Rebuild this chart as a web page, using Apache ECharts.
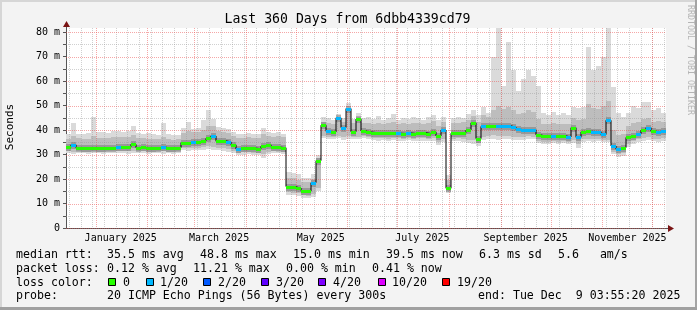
<!DOCTYPE html>
<html><head><meta charset="utf-8">
<script src="https://cdn.jsdelivr.net/npm/echarts@6/dist/echarts.min.js"></script>
<style>html,body{margin:0;padding:0;background:#f3f3f3;}#c{width:697px;height:310px;}</style>
</head><body><div id="c"></div>
<script>
// ---- time frame ----
const endTime = Date.UTC(2025, 11, 9, 3, 55, 20);
const spanDays = 360;
const stepDays = 3;               // one sample per 3 days
const startTime = endTime - spanDays * 864e5;

// ---- series values (ms), one per 3-day step ----
const medianRtt = [33.0,34.0,32.8,32.6,32.6,32.6,32.6,32.6,32.7,32.8,
 33.0,32.9,33.2,34.2,32.8,32.9,32.7,32.8,32.8,33.0,
 32.6,32.6,32.8,34.9,34.9,35.0,35.1,35.6,36.6,37.6,
 35.4,35.6,35.2,34.0,32.2,32.6,32.8,32.6,32.4,33.4,
 34.0,33.0,33.0,32.8,16.9,16.8,16.3,15.3,15.0,18.5,
 27.5,42.0,39.5,39.2,45.0,41.0,48.8,39.3,44.5,39.6,
 39.2,39.0,38.9,38.8,38.7,38.8,38.7,38.6,38.8,38.6,
 38.8,38.9,38.6,39.3,37.6,40.0,16.2,38.7,38.8,39.0,
 40.0,43.0,36.5,41.5,41.8,41.8,41.7,41.8,41.7,41.2,
 40.3,40.0,40.0,40.2,38.0,37.5,37.4,37.6,37.5,37.6,
 37.2,41.0,37.0,39.3,39.5,39.4,39.3,38.2,44.0,33.5,
 32.2,32.8,37.0,37.7,38.5,40.0,41.0,39.5,39.3,39.5];

// loss colour index (0 = 0/20, 1 = 1/20)
const lossIdx = [0,1,0,0,0,0,0,0,0,0,
 1,0,0,0,0,0,0,0,0,1,
 0,0,0,0,0,1,0,0,0,1,
 0,0,1,0,1,0,0,0,0,0,
 0,0,0,0,0,0,0,0,0,1,
 0,0,1,0,1,1,1,0,0,0,
 0,0,0,0,0,0,1,0,1,0,
 0,0,0,0,0,1,0,0,0,0,
 0,0,0,1,0,0,1,1,1,1,
 1,1,1,1,0,0,0,1,0,0,
 1,0,1,0,0,1,1,1,1,1,
 1,0,0,0,1,0,1,0,1,1];

const smokeMin = [30.6,30.4,30.6,30.5,30.4,30.6,30.5,30.4,30.6,30.5,
 30.7,30.6,30.4,30.8,30.5,30.6,30.4,30.5,30.6,30.4,
 30.5,30.4,30.6,31.8,31.6,31.8,31.7,32.0,32.4,32.0,
 31.8,31.6,31.2,30.8,29.8,30.0,30.2,30.0,29.9,28.6,
 30.4,30.6,30.5,30.4,13.6,13.5,13.2,12.3,12.1,12.6,
 15.0,36.6,36.4,36.2,36.8,36.0,36.4,36.5,36.2,36.6,
 36.4,36.0,35.6,35.8,35.5,35.8,35.6,35.4,35.8,35.6,
 35.5,35.7,35.4,35.6,33.8,35.0,14.3,35.4,35.6,35.2,
 34.8,34.4,33.4,35.8,36.2,36.4,36.0,36.4,36.2,36.0,
 35.8,36.0,36.4,36.2,34.6,34.4,34.2,34.6,34.4,34.6,
 34.2,34.8,32.8,35.0,35.4,35.2,35.6,35.0,35.0,30.2,
 29.2,29.6,33.0,34.4,35.2,35.6,36.0,35.4,35.0,35.6];

const smokeMax = [38.5,43.0,38.6,38.4,38.8,45.5,39.2,39.3,39.0,39.5,
 39.8,39.4,39.6,41.5,39.0,38.6,38.8,38.4,38.0,42.8,
 38.2,37.8,38.0,40.8,43.5,40.6,41.0,44.0,48.2,44.5,
 41.4,41.0,40.5,39.2,38.6,38.4,38.8,38.2,38.6,40.8,
 39.4,39.0,39.2,38.6,22.8,22.6,22.0,20.4,20.6,22.0,
 30.0,45.5,45.0,44.0,46.5,45.0,51.0,44.5,47.0,45.0,
 45.5,44.5,45.8,44.0,45.0,46.6,44.2,45.0,44.5,45.4,
 44.8,44.0,45.5,46.0,44.0,45.5,21.7,45.0,45.5,45.0,
 46.5,48.0,46.0,49.5,47.0,70.0,81.7,58.0,76.0,64.6,
 56.0,61.0,64.5,62.0,58.0,47.0,46.0,47.5,46.0,47.0,
 46.0,49.5,49.0,49.6,74.0,64.6,66.0,70.0,81.7,57.8,
 47.0,45.5,47.0,50.0,49.0,51.5,51.5,48.0,49.0,47.0];

const bandLow = [31.3,31.2,31.3,31.2,31.2,31.3,31.2,31.2,31.3,31.3,
 31.4,31.3,31.3,31.6,31.3,31.3,31.2,31.2,31.3,31.3,
 31.2,31.2,31.3,32.6,32.5,32.6,32.6,32.9,33.4,33.2,
 32.8,32.6,32.2,31.6,30.6,30.9,31.0,30.8,30.7,30.4,
 31.2,31.3,31.2,31.1,14.6,14.5,14.1,13.3,13.2,13.8,
 16.5,37.4,37.2,37.0,37.6,37.0,37.4,37.3,37.1,37.4,
 37.2,36.9,36.6,36.7,36.5,36.7,36.6,36.4,36.7,36.5,
 36.6,36.7,36.4,36.8,35.0,36.2,15.2,36.4,36.6,36.4,
 36.0,35.8,34.6,37.2,37.6,37.8,37.5,37.7,37.5,37.2,
 37.0,37.0,37.4,37.2,35.6,35.3,35.2,35.5,35.3,35.5,
 35.0,35.8,34.2,36.2,36.4,36.3,36.5,35.8,36.0,31.2,
 30.2,30.6,34.2,35.6,36.2,36.6,37.0,36.4,36.2,36.6];

const bandHigh = [36.4,37.5,36.6,36.4,36.5,37.5,36.8,36.9,36.7,37.0,
 37.2,37.0,37.3,38.0,36.8,36.6,36.5,36.3,36.2,37.0,
 36.2,36.0,36.3,39.0,39.6,39.2,39.4,40.0,41.5,41.8,
 39.6,39.4,39.0,37.6,36.8,36.6,37.0,36.6,36.8,38.2,
 37.6,37.2,37.4,37.0,20.6,20.4,19.8,18.6,18.8,20.2,
 28.5,43.5,42.8,42.4,45.0,43.4,49.0,42.8,45.5,43.0,
 43.0,42.6,43.0,42.4,42.8,43.4,42.6,42.8,42.6,43.0,
 42.8,42.4,43.0,43.6,41.8,43.2,19.8,42.8,43.0,43.2,
 44.0,45.8,43.5,46.0,45.5,48.0,50.0,48.5,49.5,48.0,
 46.5,47.0,48.0,47.5,44.5,42.6,42.4,42.8,42.4,42.6,
 42.4,45.0,44.0,44.5,50.5,49.0,48.5,50.0,52.0,40.0,
 38.0,38.2,41.5,43.0,43.5,44.5,45.0,43.5,43.8,43.2];

// ---- axis / labels ----
const yMax = 81.7;
const yGridValues = [0,5,10,15,20,25,30,35,40,45,50,55,60,65,70,75,80];
const yLabelValues = [0,10,20,30,40,50,60,70,80];
const monthLabels = ['January 2025','March 2025','May 2025','July 2025','September 2025','November 2025'];
const monthLabelMonths = [0,2,4,6,8,10];
const lossColors = ['#26ff00','#00b8ff','#0059ff','#5e00ff','#7e00ff','#dd00ff','#ff0000'];
const lossNames = ['0','1/20','2/20','3/20','4/20','10/20','19/20'];
const legendRtt = ['median rtt:','35.5 ms avg','48.8 ms max','15.0 ms min','39.5 ms now','6.3 ms sd','5.6   am/s'];
const legendLoss = ['packet loss:','0.12 % avg','11.21 % max','0.00 % min','0.41 % now'];

const dayOf = ms => (ms - startTime) / 864e5;
const MONO = 'DejaVu Sans Mono';

// grid lines: weeks (Mondays) and month starts
const vGrid = [];
for (let t = Date.UTC(2024, 11, 16); t < endTime; t += 7 * 864e5) vGrid.push([dayOf(t), 0]);
for (let m = 0; m < 12; m++) vGrid.push([dayOf(Date.UTC(2025, m, 1)), 1]);
const hGrid = yGridValues.map(v => [v, v % 10 === 0 ? 1 : 0]);
const labelDays = monthLabelMonths.map(m => dayOf(Date.UTC(2025, m, 1)) + 15);

const n = medianRtt.length;
const smokeData = smokeMin.map((v, i) => [i * stepDays, (i + 1) * stepDays, v, smokeMax[i]]);
const bandData = bandLow.map((v, i) => [i * stepDays, (i + 1) * stepDays, v, bandHigh[i]]);
const lossData = medianRtt.map((v, i) => [i * stepDays, (i + 1) * stepDays, v, lossIdx[i]]);
const medLine = medianRtt.map((v, i) => [i * stepDays, v]);
medLine.push([n * stepDays, medianRtt[n - 1]]);

function rangeRect(color) {
  return function (params, api) {
    const p0 = api.coord([api.value(0), api.value(2)]);
    const p1 = api.coord([api.value(1), api.value(3)]);
    const x0 = Math.round(p0[0]), x1 = Math.round(p1[0]);
    const yb = Math.round(p0[1]), yt = Math.round(p1[1]);
    return { type: 'rect', shape: { x: x0, y: yt, width: x1 - x0, height: Math.max(1, yb - yt) }, style: { fill: color } };
  };
}

const chart = echarts.init(document.getElementById('c'), null, { renderer: 'canvas' });
chart.setOption({
  backgroundColor: '#f3f3f3',
  animation: false,
  grid: { left: 66, top: 28, width: 600, height: 200, show: true, backgroundColor: '#ffffff', borderWidth: 0 },
  xAxis: {
    type: 'value', min: 0, max: spanDays,
    splitLine: { show: false },
    axisLine: { show: true, lineStyle: { color: '#555', width: 1 } },
    axisTick: { show: false },
    axisLabel: {
      customValues: labelDays, margin: 5, fontFamily: MONO, fontSize: 10, color: '#000',
      formatter: v => { const k = labelDays.findIndex(d => Math.abs(d - v) < 1e-6); return k >= 0 ? monthLabels[k] : ''; }
    }
  },
  yAxis: {
    type: 'value', min: 0, max: yMax, interval: 5,
    splitLine: { show: false },
    axisLine: { show: true, lineStyle: { color: '#555', width: 1 } },
    axisTick: { show: true, length: 3, customValues: yGridValues, lineStyle: { color: '#555' } },
    axisLabel: {
      customValues: yLabelValues, margin: 6, fontFamily: MONO, fontSize: 10, color: '#000',
      formatter: v => (v === 0 ? '0' : v + ' m')
    }
  },
  series: [
    { type: 'custom', name: 'smoke', z: 1, clip: true, silent: true,
      encode: { x: [0, 1], y: [2, 3] }, data: smokeData, renderItem: rangeRect('#dadada') },
    { type: 'custom', name: 'smokeCore', z: 2, clip: true, silent: true,
      encode: { x: [0, 1], y: [2, 3] }, data: bandData, renderItem: rangeRect('#bdbdbd') },
    { type: 'custom', name: 'vgrid', z: 3, silent: true, data: vGrid,
      renderItem: (params, api) => {
        const cs = params.coordSys;
        const x = Math.round(api.coord([api.value(0), 0])[0]) + 0.5;
        return { type: 'line', shape: { x1: x, y1: cs.y, x2: x, y2: cs.y + cs.height },
          style: { stroke: api.value(1) ? 'rgba(235,80,80,0.5)' : 'rgba(150,150,150,0.45)', lineWidth: 1, lineDash: [1, 1] } };
      } },
    { type: 'custom', name: 'hgrid', z: 3, silent: true, data: hGrid,
      renderItem: (params, api) => {
        const cs = params.coordSys;
        const y = Math.round(api.coord([0, api.value(0)])[1]) + 0.5;
        return { type: 'line', shape: { x1: cs.x, y1: y, x2: cs.x + cs.width, y2: y },
          style: { stroke: api.value(1) ? 'rgba(235,80,80,0.5)' : 'rgba(150,150,150,0.45)', lineWidth: 1, lineDash: [1, 1] } };
      } },
    { type: 'custom', name: 'halo', z: 4, silent: true, encode: { x: [0, 1], y: 2 }, data: lossData,
      renderItem: (params, api) => {
        const p0 = api.coord([api.value(0), api.value(2)]);
        const p1 = api.coord([api.value(1), api.value(2)]);
        const y = Math.round(p0[1]);
        return { type: 'rect', shape: { x: Math.round(p0[0]), y: y - 3, width: Math.round(p1[0]) - Math.round(p0[0]), height: 7 },
          style: { fill: 'rgba(70,70,70,0.3)' } };
      } },
    { type: 'line', name: 'median', z: 5, data: medLine, step: 'end', showSymbol: false, symbol: 'none',
      lineStyle: { color: '#000', width: 1 }, silent: true },
    { type: 'custom', name: 'loss', z: 6, silent: true, encode: { x: [0, 1], y: 2 }, data: lossData,
      renderItem: (params, api) => {
        const p0 = api.coord([api.value(0), api.value(2)]);
        const p1 = api.coord([api.value(1), api.value(2)]);
        const y = Math.round(p0[1]);
        return { type: 'rect', shape: { x: Math.round(p0[0]), y: y - 1, width: Math.round(p1[0]) - Math.round(p0[0]), height: 3 },
          style: { fill: lossColors[api.value(3)] } };
      } }
  ]
});

// decorations and legend text
const p00 = chart.convertToPixel({ gridIndex: 0 }, [0, 0]);
const pTop = chart.convertToPixel({ gridIndex: 0 }, [0, yMax]);
const pRight = chart.convertToPixel({ gridIndex: 0 }, [spanDays, 0]);
const ax = Math.round(p00[0]) + 0.5, ay = Math.round(p00[1]) + 0.5;
const topY = Math.round(pTop[1]), rightX = Math.round(pRight[0]);
const FONT = '11.6px "DejaVu Sans Mono"';
const txt = (x, y, s) => ({ type: 'text', x: x, y: y, silent: true,
  style: { text: s, font: FONT, fill: '#000', textAlign: 'left', textVerticalAlign: 'middle' } });

const els = [
  { type: 'rect', shape: { x: 0, y: 0, width: 697, height: 2 }, style: { fill: '#d6d6d6' } },
  { type: 'rect', shape: { x: 0, y: 0, width: 2, height: 310 }, style: { fill: '#d6d6d6' } },
  { type: 'rect', shape: { x: 695, y: 0, width: 2, height: 310 }, style: { fill: '#a4a4a4' } },
  { type: 'rect', shape: { x: 0, y: 307, width: 697, height: 3 }, style: { fill: '#a0a0a0' } },
  { type: 'line', shape: { x1: ax, y1: topY, x2: ax, y2: topY - 2 }, style: { stroke: '#555', lineWidth: 1 } },
  { type: 'line', shape: { x1: rightX, y1: ay, x2: rightX + 2, y2: ay }, style: { stroke: '#555', lineWidth: 1 } },
  { type: 'polygon', shape: { points: [[ax - 3.5, topY - 1], [ax + 3.5, topY - 1], [ax, topY - 7]] }, style: { fill: '#7a1414' } },
  { type: 'polygon', shape: { points: [[rightX + 2, ay - 3.5], [rightX + 2, ay + 3.5], [rightX + 8, ay]] }, style: { fill: '#7a1414' } },
  { type: 'text', x: 347.5, y: 19.5, style: { text: 'Last 360 Days from 6dbb4339cd79', font: '13.2px "DejaVu Sans Mono"', fill: '#000', textAlign: 'center', textVerticalAlign: 'middle' } },
  { type: 'text', x: 10, y: 127, rotation: Math.PI / 2, style: { text: 'Seconds', font: '11px "DejaVu Sans Mono"', fill: '#000', textAlign: 'center', textVerticalAlign: 'middle' } },
  { type: 'text', x: 690, y: 60, rotation: -Math.PI / 2, style: { text: 'RRDTOOL / TOBI OETIKER', font: '8.3px "DejaVu Sans Mono"', fill: '#b4b4b4', textAlign: 'center', textVerticalAlign: 'middle' } },
  txt(16, 282.5, 'loss color:'),
  txt(16, 296, 'probe:'), txt(107, 296, '20 ICMP Echo Pings (56 Bytes) every 300s'), txt(478, 296, 'end: Tue Dec  9 03:55:20 2025')
];
const rttX = [16, 107, 200, 293, 386, 479, 558];
legendRtt.forEach((s, k) => els.push(txt(rttX[k], 255, s)));
const lossX = [16, 107, 193, 286, 372];
legendLoss.forEach((s, k) => els.push(txt(lossX[k], 268.5, s)));
const swX = [108, 146, 203, 261, 318, 378, 442];
const swLabelX = [123, 160, 218, 276, 333, 392, 457];
lossColors.forEach((c, k) => {
  els.push({ type: 'rect', shape: { x: swX[k] + 0.5, y: 278.5, width: 7, height: 7 }, style: { fill: c, stroke: '#000', lineWidth: 1 } });
  els.push(txt(swLabelX[k], 282.5, lossNames[k]));
});
chart.setOption({ graphic: { elements: els } });
</script></body></html>
